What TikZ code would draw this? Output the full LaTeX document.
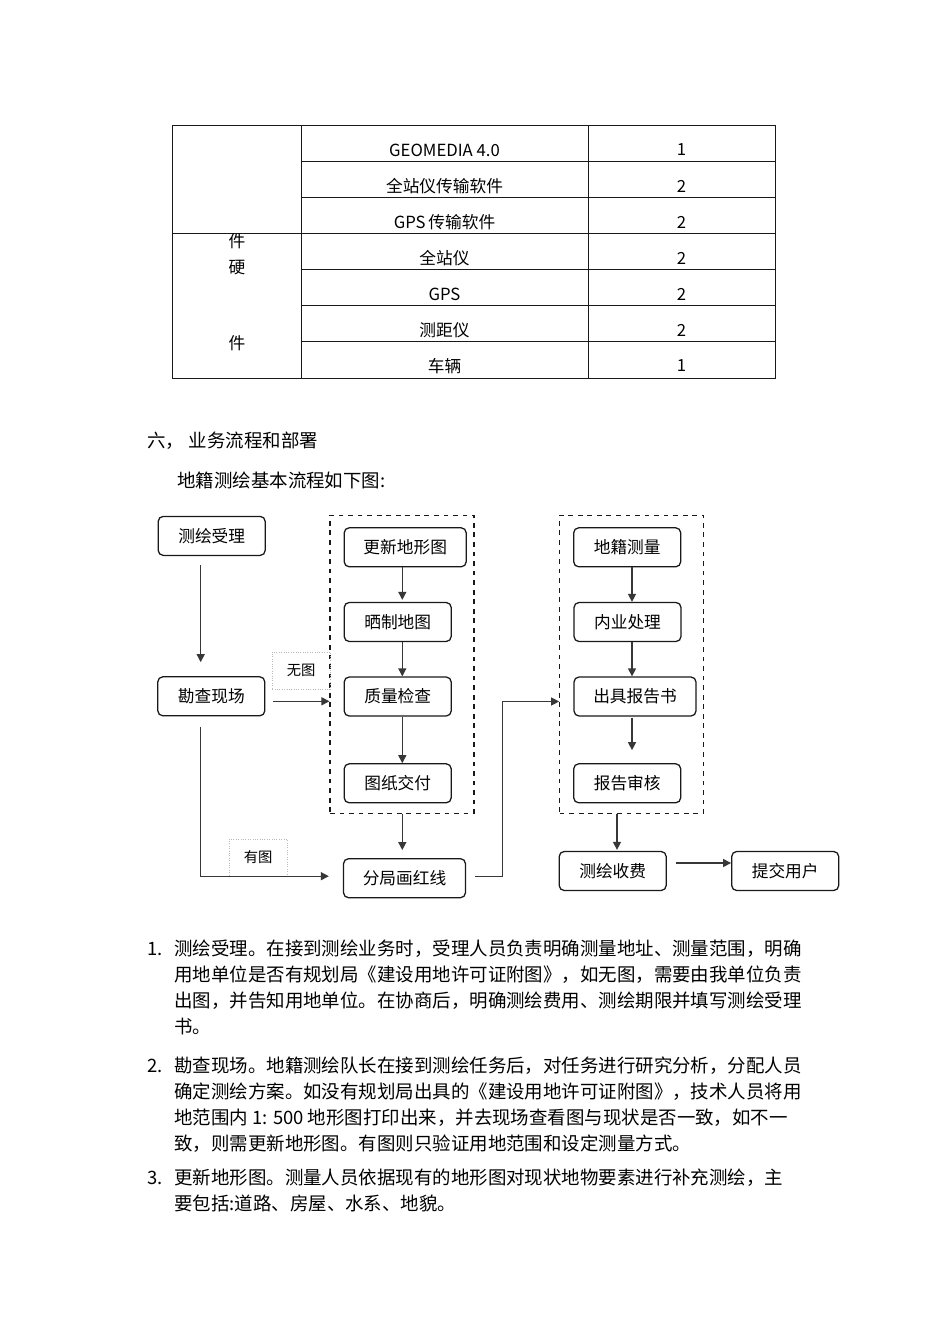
\documentclass[tikz,border=0pt]{standalone}
\usepackage{fontspec}
\setmainfont{Noto Sans CJK SC}
\usepackage{tikz}
\usetikzlibrary{arrows.meta, positioning, calc}
\definecolor{Negro}{RGB}{25, 25, 25}
\definecolor{Gris}{RGB}{55, 55, 55}
\definecolor{GrisClaro}{RGB}{185, 185, 185}
\newdimen\pxu
\pxu=0.0221cm

\begin{document}
\begin{tikzpicture}[
        x=0.0221cm, y=-0.0221cm,
        block/.style={
            rectangle,
            draw=Negro,
            rounded corners=5\pxu,
            line width=0.8pt,
            minimum width=107\pxu,
            minimum height=39\pxu,
            inner sep=0pt,
            align=center,
            font=\fontsize{10.5pt}{12pt}\selectfont
        },
        grupo/.style={
            rectangle,
            draw=Negro,
            dashed,
            line width=0.7pt,
            minimum width=144\pxu,
            minimum height=298\pxu,
            inner sep=0pt
        },
        tag/.style={
            rectangle,
            draw=GrisClaro,
            densely dotted,
            line width=0.5pt,
            minimum width=58\pxu,
            minimum height=37\pxu,
            inner sep=0pt,
            font=\fontsize{9pt}{10pt}\selectfont
        },
        arrow/.style={
            -{Triangle[length=5pt, width=5pt]},
            line width=0.8pt,
            draw=Gris
        },
        tabla/.style={
            draw=Negro,
            line width=0.6pt
        },
        txt/.style={
            inner sep=0pt,
            font=\fontsize{10.5pt}{12pt}\selectfont
        },
        parrafo/.style={
            anchor=base west,
            align=left,
            inner sep=0pt,
            font=\fontsize{11.6pt}{16.3pt}\selectfont
        }
    ]
        \path[fill=white, use as bounding box] (0,0) rectangle (950,1344);

        % Table
        \draw[tabla] (172,125) rectangle (775,378);
        \draw[tabla] (301,125) -- (301,378);
        \draw[tabla] (588,125) -- (588,378);
        \draw[tabla] (172,233) -- (775,233);
        \foreach \y in {161,197,269,305,341}
            \draw[tabla] (301,\y) -- (775,\y);
        \foreach \equipo/\cant [count=\i] in {GEOMEDIA 4.0/1, 全站仪传输软件/2, GPS\,传输软件/2, 全站仪/2, GPS/2, 测距仪/2, 车辆/1}{
            \node[txt] (eq\i) at (444.5, 114+36*\i) {\equipo};
            \node[txt] (cant\i) at (681.5, 114+36*\i) {\cant};
        }
        \node[txt] (jian1) at (237, 241) {件};
        \node[txt] (ying) at (237, 268) {硬};
        \node[txt] (jian2) at (237, 343) {件};

        % Headings
        \node[parrafo] (titulo) at (147, 447) {六，\hspace{3pt}业务流程和部署};
        \node[parrafo] (subtitulo) at (177, 487) {地籍测绘基本流程如下图:};

        % Nodes
        \node[grupo] (grpA) at (402, 664.2) {};
        \node[grupo] (grpB) at (631.7, 664.2) {};

        \node[block] (shouli) at (211.7, 535.9) {测绘受理};
        \node[block] (kancha) at (211.3, 696.3) {勘查现场};
        \node[block, minimum width=122\pxu] (gengxin) at (405.2, 547.3) {更新地形图};
        \node[block] (shaizhi) at (397.7, 622) {晒制地图};
        \node[block] (zhiliang) at (397.7, 696.5) {质量检查};
        \node[block] (tuzhi) at (397.7, 783.3) {图纸交付};
        \node[block, minimum width=122\pxu] (hongxian) at (404.5, 878.2) {分局画红线};
        \node[block] (diji) at (627.2, 547.3) {地籍测量};
        \node[block] (neiye) at (627.5, 622) {内业处理};
        \node[block, minimum width=122\pxu] (baogao) at (635, 696.5) {出具报告书};
        \node[block] (shenhe) at (627.2, 783.3) {报告审核};
        \node[block] (shoufei) at (612.7, 871) {测绘收费};
        \node[block] (tijiao) at (785.2, 871) {提交用户};

        \node[tag] (wutu) at (301.2, 670.5) {无图};
        \node[tag] (youtu) at (258.2, 857.5) {有图};

        \coordinate (colL) at (200.7, 0);
        \coordinate (colA) at (402.3, 0);
        \coordinate (colB) at (632, 0);
        \coordinate (colC) at (617, 0);
        \coordinate (giro) at (502.7, 876);

        % Paths
        \draw[arrow, shorten <=9\pxu, shorten >=14\pxu] (shouli.south -| colL) -- (kancha.north -| colL);
        \draw[arrow, shorten <=8\pxu] ([yshift=-5\pxu]kancha.east) -- ([yshift=-5\pxu]kancha.east -| grpA.west);
        \draw[arrow, shorten <=11\pxu, shorten >=14\pxu] (kancha.south -| colL) |- ([yshift=2\pxu]hongxian.west);
        \draw[arrow, shorten >=2\pxu] (gengxin.south -| colA) -- (shaizhi.north -| colA);
        \draw[arrow] (shaizhi.south -| colA) -- (zhiliang.north -| colA);
        \draw[arrow] (zhiliang.south -| colA) -- (tuzhi.north -| colA);
        \draw[arrow, shorten >=8\pxu] (grpA.south -| colA) -- (hongxian.north -| colA);
        \draw[arrow, shorten <=9\pxu] ([yshift=2\pxu]hongxian.east) -- ([yshift=2\pxu]hongxian.east -| giro) |- ([yshift=-5\pxu]baogao.west -| grpB.west);
        \draw[arrow] (diji.south -| colB) -- (neiye.north -| colB);
        \draw[arrow] (neiye.south -| colB) -- (baogao.north -| colB);
        \draw[arrow, shorten <=1\pxu, shorten >=13\pxu] (baogao.south -| colB) -- (shenhe.north -| colB);
        \draw[arrow, shorten >=1\pxu] (grpB.south -| colC) -- (shoufei.north -| colC);
        \draw[arrow, shorten <=9\pxu] ([yshift=8\pxu]shoufei.east) -- ([yshift=8\pxu]shoufei.east -| tijiao.west);

        % Text (multi-line nodes sit on the baseline of their last line)
        \node[parrafo] (num1) at (147, 955) {1.};
        \node[parrafo] (p1) at (174, 1033) {测绘受理。在接到测绘业务时，受理人员负责明确测量地址、测量范围，明确\\用地单位是否有规划局《建设用地许可证附图》，如无图，需要由我单位负责\\出图，并告知用地单位。在协商后，明确测绘费用、测绘期限并填写测绘受理\\书。};
        \node[parrafo] (num2) at (147, 1072) {2.};
        \node[parrafo] (p2) at (174, 1150) {勘查现场。地籍测绘队长在接到测绘任务后，对任务进行研究分析，分配人员\\确定测绘方案。如没有规划局出具的《建设用地许可证附图》，技术人员将用\\地范围内 1: 500 地形图打印出来，并去现场查看图与现状是否一致，如不一\\致，则需更新地形图。有图则只验证用地范围和设定测量方式。};
        \node[parrafo] (num3) at (147, 1184) {3.};
        \node[parrafo] (p3) at (174, 1210) {更新地形图。测量人员依据现有的地形图对现状地物要素进行补充测绘，主\\要包括:道路、房屋、水系、地貌。};
    \end{tikzpicture}
\end{document}
